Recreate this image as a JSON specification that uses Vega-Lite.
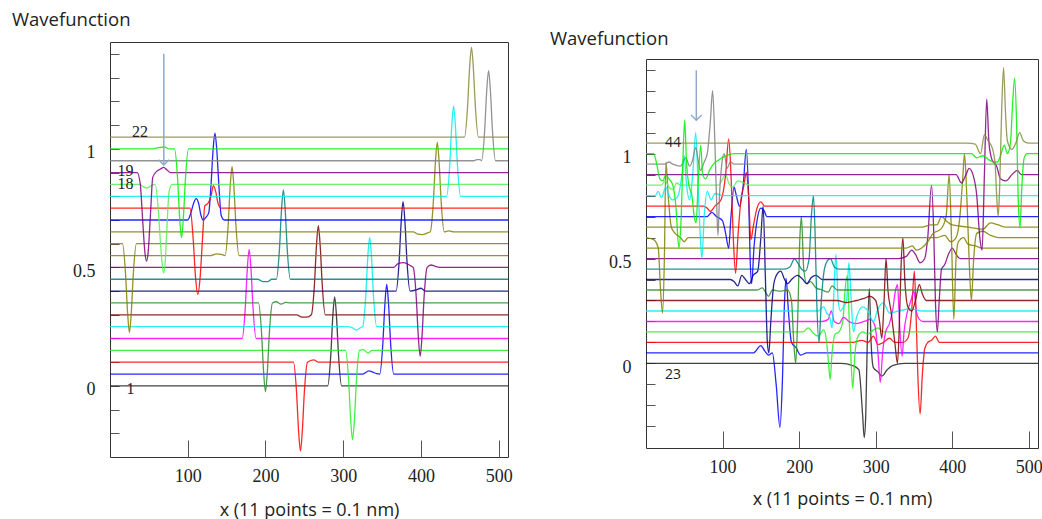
{
"$schema": "https://vega.github.io/schema/vega-lite/v6.json",
"background": "white",
"padding": {"left": 11, "top": 10, "right": 0, "bottom": 0},
"spacing": 36,
"config": {
 "view": {"stroke": "#333333", "strokeWidth": 1},
 "axis": {"grid": false, "domain": false, "labelFont": "Liberation Serif", "labelFontSize": 18, "labelColor": "#222222", "tickColor": "#555555", "tickWidth": 1, "titleFont": "Open Sans", "titleFontSize": 18, "titleFontWeight": "normal", "titleColor": "#222222", "labelFlush": false},
 "title": {"font": "Open Sans", "fontSize": 18.5, "fontWeight": "normal", "color": "#222222", "anchor": "start", "frame": "group", "baseline": "bottom"}
},
"datasets": {
"arrows": [
 {"p": "L", "x": 69.2, "y": 0.932, "y2": 1.401},
 {"p": "R", "x": 65.7, "y": 1.159, "y2": 1.397}
],
"labels": [
 {"p": "L", "t": "22", "x": 38.5, "y": 1.073},
 {"p": "L", "t": "19", "x": 20.1, "y": 0.907},
 {"p": "L", "t": "18", "x": 20.1, "y": 0.852},
 {"p": "L", "t": "1", "x": 26.5, "y": -0.014},
 {"p": "R", "t": "44", "x": 35.3, "y": 1.051},
 {"p": "R", "t": "23", "x": 35.3, "y": -0.056}
],
"curves": [
{"p":"L","s":1,"x":0,"y":0},{"p":"L","s":1,"x":280,"y":0},{"p":"L","s":1,"x":284,"y":0.128},{"p":"L","s":1,"x":286.5,"y":0.286},{"p":"L","s":1,"x":289,"y":0.376},{"p":"L","s":1,"x":291.5,"y":0.286},{"p":"L","s":1,"x":294,"y":0.128},{"p":"L","s":1,"x":298,"y":0},{"p":"L","s":1,"x":512,"y":0},
{"p":"L","s":2,"x":0,"y":0.05},{"p":"L","s":2,"x":325,"y":0.05},{"p":"L","s":2,"x":333,"y":0.063},{"p":"L","s":2,"x":338,"y":0.058},{"p":"L","s":2,"x":343,"y":0.052},{"p":"L","s":2,"x":347,"y":0.05},{"p":"L","s":2,"x":351,"y":0.179},{"p":"L","s":2,"x":353.5,"y":0.337},{"p":"L","s":2,"x":356,"y":0.428},{"p":"L","s":2,"x":358.5,"y":0.337},{"p":"L","s":2,"x":361,"y":0.179},{"p":"L","s":2,"x":365,"y":0.05},{"p":"L","s":2,"x":512,"y":0.05},
{"p":"L","s":3,"x":0,"y":0.1},{"p":"L","s":3,"x":236,"y":0.1},{"p":"L","s":3,"x":240,"y":-0.028},{"p":"L","s":3,"x":242.5,"y":-0.185},{"p":"L","s":3,"x":245,"y":-0.275},{"p":"L","s":3,"x":247.5,"y":-0.185},{"p":"L","s":3,"x":250,"y":-0.028},{"p":"L","s":3,"x":254,"y":0.1},{"p":"L","s":3,"x":262,"y":0.11},{"p":"L","s":3,"x":268,"y":0.1},{"p":"L","s":3,"x":512,"y":0.1},
{"p":"L","s":4,"x":0,"y":0.15},{"p":"L","s":4,"x":303,"y":0.15},{"p":"L","s":4,"x":307,"y":0.022},{"p":"L","s":4,"x":309.5,"y":-0.137},{"p":"L","s":4,"x":312,"y":-0.227},{"p":"L","s":4,"x":314.5,"y":-0.137},{"p":"L","s":4,"x":317,"y":0.022},{"p":"L","s":4,"x":321,"y":0.15},{"p":"L","s":4,"x":326,"y":0.153},{"p":"L","s":4,"x":332,"y":0.138},{"p":"L","s":4,"x":337,"y":0.15},{"p":"L","s":4,"x":512,"y":0.15},
{"p":"L","s":5,"x":0,"y":0.2},{"p":"L","s":5,"x":170,"y":0.2},{"p":"L","s":5,"x":174,"y":0.328},{"p":"L","s":5,"x":176.5,"y":0.486},{"p":"L","s":5,"x":179,"y":0.576},{"p":"L","s":5,"x":181.5,"y":0.486},{"p":"L","s":5,"x":184,"y":0.328},{"p":"L","s":5,"x":188,"y":0.2},{"p":"L","s":5,"x":512,"y":0.2},
{"p":"L","s":6,"x":0,"y":0.25},{"p":"L","s":6,"x":305,"y":0.25},{"p":"L","s":6,"x":312,"y":0.245},{"p":"L","s":6,"x":317,"y":0.235},{"p":"L","s":6,"x":322,"y":0.245},{"p":"L","s":6,"x":325,"y":0.25},{"p":"L","s":6,"x":329,"y":0.378},{"p":"L","s":6,"x":331.5,"y":0.537},{"p":"L","s":6,"x":334,"y":0.627},{"p":"L","s":6,"x":336.5,"y":0.537},{"p":"L","s":6,"x":339,"y":0.378},{"p":"L","s":6,"x":343,"y":0.25},{"p":"L","s":6,"x":512,"y":0.25},
{"p":"L","s":7,"x":0,"y":0.3},{"p":"L","s":7,"x":240,"y":0.3},{"p":"L","s":7,"x":247,"y":0.29},{"p":"L","s":7,"x":253,"y":0.29},{"p":"L","s":7,"x":259,"y":0.3},{"p":"L","s":7,"x":263,"y":0.428},{"p":"L","s":7,"x":265.5,"y":0.586},{"p":"L","s":7,"x":268,"y":0.676},{"p":"L","s":7,"x":270.5,"y":0.586},{"p":"L","s":7,"x":273,"y":0.428},{"p":"L","s":7,"x":277,"y":0.3},{"p":"L","s":7,"x":512,"y":0.3},
{"p":"L","s":8,"x":0,"y":0.35},{"p":"L","s":8,"x":191,"y":0.35},{"p":"L","s":8,"x":195,"y":0.222},{"p":"L","s":8,"x":197.5,"y":0.065},{"p":"L","s":8,"x":200,"y":-0.025},{"p":"L","s":8,"x":202.5,"y":0.065},{"p":"L","s":8,"x":205,"y":0.222},{"p":"L","s":8,"x":209,"y":0.35},{"p":"L","s":8,"x":214,"y":0.355},{"p":"L","s":8,"x":220,"y":0.345},{"p":"L","s":8,"x":226,"y":0.352},{"p":"L","s":8,"x":232,"y":0.35},{"p":"L","s":8,"x":512,"y":0.35},
{"p":"L","s":9,"x":0,"y":0.4},{"p":"L","s":9,"x":368,"y":0.4},{"p":"L","s":9,"x":372,"y":0.528},{"p":"L","s":9,"x":374.5,"y":0.687},{"p":"L","s":9,"x":377,"y":0.777},{"p":"L","s":9,"x":379.5,"y":0.687},{"p":"L","s":9,"x":382,"y":0.528},{"p":"L","s":9,"x":386,"y":0.4},{"p":"L","s":9,"x":394,"y":0.405},{"p":"L","s":9,"x":400,"y":0.412},{"p":"L","s":9,"x":406,"y":0.4},{"p":"L","s":9,"x":512,"y":0.4},
{"p":"L","s":10,"x":0,"y":0.45},{"p":"L","s":10,"x":190,"y":0.45},{"p":"L","s":10,"x":197,"y":0.44},{"p":"L","s":10,"x":203,"y":0.44},{"p":"L","s":10,"x":208,"y":0.45},{"p":"L","s":10,"x":214,"y":0.45},{"p":"L","s":10,"x":218,"y":0.578},{"p":"L","s":10,"x":220.5,"y":0.737},{"p":"L","s":10,"x":223,"y":0.827},{"p":"L","s":10,"x":225.5,"y":0.737},{"p":"L","s":10,"x":228,"y":0.578},{"p":"L","s":10,"x":232,"y":0.45},{"p":"L","s":10,"x":512,"y":0.45},
{"p":"L","s":11,"x":0,"y":0.5},{"p":"L","s":11,"x":365,"y":0.5},{"p":"L","s":11,"x":370,"y":0.515},{"p":"L","s":11,"x":378,"y":0.52},{"p":"L","s":11,"x":385,"y":0.51},{"p":"L","s":11,"x":390,"y":0.5},{"p":"L","s":11,"x":394,"y":0.372},{"p":"L","s":11,"x":396.5,"y":0.215},{"p":"L","s":11,"x":399,"y":0.125},{"p":"L","s":11,"x":401.5,"y":0.215},{"p":"L","s":11,"x":404,"y":0.372},{"p":"L","s":11,"x":408,"y":0.5},{"p":"L","s":11,"x":413,"y":0.51},{"p":"L","s":11,"x":418,"y":0.505},{"p":"L","s":11,"x":424,"y":0.5},{"p":"L","s":11,"x":512,"y":0.5},
{"p":"L","s":12,"x":0,"y":0.55},{"p":"L","s":12,"x":130,"y":0.55},{"p":"L","s":12,"x":137,"y":0.557},{"p":"L","s":12,"x":143,"y":0.555},{"p":"L","s":12,"x":148,"y":0.55},{"p":"L","s":12,"x":152,"y":0.678},{"p":"L","s":12,"x":154.5,"y":0.835},{"p":"L","s":12,"x":157,"y":0.925},{"p":"L","s":12,"x":159.5,"y":0.835},{"p":"L","s":12,"x":162,"y":0.678},{"p":"L","s":12,"x":166,"y":0.55},{"p":"L","s":12,"x":512,"y":0.55},
{"p":"L","s":13,"x":0,"y":0.6},{"p":"L","s":13,"x":16,"y":0.6},{"p":"L","s":13,"x":20,"y":0.472},{"p":"L","s":13,"x":22.5,"y":0.315},{"p":"L","s":13,"x":25,"y":0.225},{"p":"L","s":13,"x":27.5,"y":0.315},{"p":"L","s":13,"x":30,"y":0.472},{"p":"L","s":13,"x":34,"y":0.6},{"p":"L","s":13,"x":512,"y":0.6},
{"p":"L","s":14,"x":0,"y":0.65},{"p":"L","s":14,"x":390,"y":0.65},{"p":"L","s":14,"x":396,"y":0.64},{"p":"L","s":14,"x":402,"y":0.638},{"p":"L","s":14,"x":408,"y":0.645},{"p":"L","s":14,"x":412,"y":0.65},{"p":"L","s":14,"x":416,"y":0.778},{"p":"L","s":14,"x":418.5,"y":0.937},{"p":"L","s":14,"x":421,"y":1.027},{"p":"L","s":14,"x":423.5,"y":0.937},{"p":"L","s":14,"x":426,"y":0.778},{"p":"L","s":14,"x":430,"y":0.65},{"p":"L","s":14,"x":436,"y":0.654},{"p":"L","s":14,"x":442,"y":0.65},{"p":"L","s":14,"x":512,"y":0.65},
{"p":"L","s":15,"x":0,"y":0.7},{"p":"L","s":15,"x":100,"y":0.7},{"p":"L","s":15,"x":104,"y":0.73},{"p":"L","s":15,"x":108,"y":0.775},{"p":"L","s":15,"x":111,"y":0.79},{"p":"L","s":15,"x":114,"y":0.77},{"p":"L","s":15,"x":117,"y":0.72},{"p":"L","s":15,"x":120,"y":0.7},{"p":"L","s":15,"x":123,"y":0.71},{"p":"L","s":15,"x":127,"y":0.73},{"p":"L","s":15,"x":130,"y":0.85},{"p":"L","s":15,"x":132.5,"y":0.99},{"p":"L","s":15,"x":135,"y":1.066},{"p":"L","s":15,"x":137.5,"y":0.99},{"p":"L","s":15,"x":140,"y":0.85},{"p":"L","s":15,"x":143,"y":0.72},{"p":"L","s":15,"x":147,"y":0.7},{"p":"L","s":15,"x":512,"y":0.7},
{"p":"L","s":16,"x":0,"y":0.75},{"p":"L","s":16,"x":103,"y":0.75},{"p":"L","s":16,"x":107,"y":0.62},{"p":"L","s":16,"x":110,"y":0.46},{"p":"L","s":16,"x":113,"y":0.386},{"p":"L","s":16,"x":116,"y":0.46},{"p":"L","s":16,"x":119,"y":0.62},{"p":"L","s":16,"x":122,"y":0.76},{"p":"L","s":16,"x":126,"y":0.77},{"p":"L","s":16,"x":130,"y":0.8},{"p":"L","s":16,"x":133,"y":0.845},{"p":"L","s":16,"x":136,"y":0.82},{"p":"L","s":16,"x":139,"y":0.77},{"p":"L","s":16,"x":143,"y":0.75},{"p":"L","s":16,"x":512,"y":0.75},
{"p":"L","s":17,"x":0,"y":0.8},{"p":"L","s":17,"x":433,"y":0.8},{"p":"L","s":17,"x":437,"y":0.929},{"p":"L","s":17,"x":439.5,"y":1.088},{"p":"L","s":17,"x":442,"y":1.18},{"p":"L","s":17,"x":444.5,"y":1.088},{"p":"L","s":17,"x":447,"y":0.929},{"p":"L","s":17,"x":451,"y":0.8},{"p":"L","s":17,"x":512,"y":0.8},
{"p":"L","s":18,"x":0,"y":0.85},{"p":"L","s":18,"x":38,"y":0.85},{"p":"L","s":18,"x":43,"y":0.84},{"p":"L","s":18,"x":48,"y":0.835},{"p":"L","s":18,"x":53,"y":0.845},{"p":"L","s":18,"x":58,"y":0.85},{"p":"L","s":18,"x":62,"y":0.75},{"p":"L","s":18,"x":65,"y":0.6},{"p":"L","s":18,"x":67,"y":0.52},{"p":"L","s":18,"x":69,"y":0.477},{"p":"L","s":18,"x":71,"y":0.52},{"p":"L","s":18,"x":73,"y":0.65},{"p":"L","s":18,"x":76,"y":0.82},{"p":"L","s":18,"x":80,"y":0.85},{"p":"L","s":18,"x":512,"y":0.85},
{"p":"L","s":19,"x":0,"y":0.9},{"p":"L","s":19,"x":35,"y":0.9},{"p":"L","s":19,"x":39,"y":0.85},{"p":"L","s":19,"x":42,"y":0.7},{"p":"L","s":19,"x":45,"y":0.56},{"p":"L","s":19,"x":47,"y":0.527},{"p":"L","s":19,"x":49,"y":0.56},{"p":"L","s":19,"x":52,"y":0.72},{"p":"L","s":19,"x":55,"y":0.88},{"p":"L","s":19,"x":60,"y":0.905},{"p":"L","s":19,"x":65,"y":0.915},{"p":"L","s":19,"x":69,"y":0.922},{"p":"L","s":19,"x":73,"y":0.912},{"p":"L","s":19,"x":78,"y":0.9},{"p":"L","s":19,"x":512,"y":0.9},
{"p":"L","s":20,"x":0,"y":0.95},{"p":"L","s":20,"x":468,"y":0.95},{"p":"L","s":20,"x":472,"y":0.955},{"p":"L","s":20,"x":476,"y":0.955},{"p":"L","s":20,"x":478,"y":0.95},{"p":"L","s":20,"x":482,"y":1.079},{"p":"L","s":20,"x":484.5,"y":1.239},{"p":"L","s":20,"x":487,"y":1.33},{"p":"L","s":20,"x":489.5,"y":1.239},{"p":"L","s":20,"x":492,"y":1.079},{"p":"L","s":20,"x":496,"y":0.95},{"p":"L","s":20,"x":512,"y":0.95},
{"p":"L","s":21,"x":0,"y":1.0},{"p":"L","s":21,"x":55,"y":1.0},{"p":"L","s":21,"x":62,"y":1.005},{"p":"L","s":21,"x":70,"y":1.008},{"p":"L","s":21,"x":76,"y":1.0},{"p":"L","s":21,"x":83,"y":1.0},{"p":"L","s":21,"x":87,"y":0.872},{"p":"L","s":21,"x":89.5,"y":0.715},{"p":"L","s":21,"x":92,"y":0.625},{"p":"L","s":21,"x":94.5,"y":0.715},{"p":"L","s":21,"x":97,"y":0.872},{"p":"L","s":21,"x":101,"y":1.0},{"p":"L","s":21,"x":512,"y":1.0},
{"p":"L","s":22,"x":0,"y":1.05},{"p":"L","s":22,"x":456,"y":1.05},{"p":"L","s":22,"x":460,"y":1.179},{"p":"L","s":22,"x":462.5,"y":1.337},{"p":"L","s":22,"x":465,"y":1.428},{"p":"L","s":22,"x":467.5,"y":1.337},{"p":"L","s":22,"x":470,"y":1.179},{"p":"L","s":22,"x":474,"y":1.05},{"p":"L","s":22,"x":512,"y":1.05},
{"p":"R","s":23,"x":0,"y":0},{"p":"R","s":23,"x":255,"y":0},{"p":"R","s":23,"x":270,"y":-0.01},{"p":"R","s":23,"x":278,"y":-0.03},{"p":"R","s":23,"x":283,"y":-0.25},{"p":"R","s":23,"x":285,"y":-0.354},{"p":"R","s":23,"x":287,"y":-0.25},{"p":"R","s":23,"x":289,"y":0.1},{"p":"R","s":23,"x":291.7,"y":0.356},{"p":"R","s":23,"x":294,"y":0.1},{"p":"R","s":23,"x":297,"y":-0.02},{"p":"R","s":23,"x":303,"y":-0.04},{"p":"R","s":23,"x":308,"y":-0.06},{"p":"R","s":23,"x":315,"y":-0.03},{"p":"R","s":23,"x":322,"y":-0.01},{"p":"R","s":23,"x":338,"y":0},{"p":"R","s":23,"x":512,"y":0},
{"p":"R","s":24,"x":0,"y":0.05},{"p":"R","s":24,"x":140,"y":0.05},{"p":"R","s":24,"x":150,"y":0.085},{"p":"R","s":24,"x":155,"y":0.06},{"p":"R","s":24,"x":160,"y":0.04},{"p":"R","s":24,"x":165,"y":0.05},{"p":"R","s":24,"x":170,"y":-0.1},{"p":"R","s":24,"x":175,"y":-0.305},{"p":"R","s":24,"x":178,"y":-0.1},{"p":"R","s":24,"x":181,"y":0.3},{"p":"R","s":24,"x":183,"y":0.405},{"p":"R","s":24,"x":186,"y":0.25},{"p":"R","s":24,"x":190,"y":0.1},{"p":"R","s":24,"x":196,"y":0.075},{"p":"R","s":24,"x":202,"y":0.04},{"p":"R","s":24,"x":210,"y":0.05},{"p":"R","s":24,"x":512,"y":0.05},
{"p":"R","s":25,"x":0,"y":0.1},{"p":"R","s":25,"x":270,"y":0.1},{"p":"R","s":25,"x":282,"y":0.11},{"p":"R","s":25,"x":290,"y":0.1},{"p":"R","s":25,"x":297,"y":0.13},{"p":"R","s":25,"x":303,"y":0.09},{"p":"R","s":25,"x":310,"y":0.1},{"p":"R","s":25,"x":318,"y":0.12},{"p":"R","s":25,"x":325,"y":0.1},{"p":"R","s":25,"x":335,"y":0.1},{"p":"R","s":25,"x":342,"y":0.12},{"p":"R","s":25,"x":347,"y":0.25},{"p":"R","s":25,"x":350.5,"y":0.44},{"p":"R","s":25,"x":353,"y":0.2},{"p":"R","s":25,"x":355,"y":-0.05},{"p":"R","s":25,"x":358,"y":-0.24},{"p":"R","s":25,"x":361,"y":-0.05},{"p":"R","s":25,"x":364,"y":0.07},{"p":"R","s":25,"x":368,"y":0.1},{"p":"R","s":25,"x":373,"y":0.11},{"p":"R","s":25,"x":378,"y":0.13},{"p":"R","s":25,"x":383,"y":0.1},{"p":"R","s":25,"x":390,"y":0.1},{"p":"R","s":25,"x":512,"y":0.1},
{"p":"R","s":26,"x":0,"y":0.15},{"p":"R","s":26,"x":205,"y":0.15},{"p":"R","s":26,"x":212,"y":0.17},{"p":"R","s":26,"x":217,"y":0.15},{"p":"R","s":26,"x":225,"y":0.13},{"p":"R","s":26,"x":232,"y":0.16},{"p":"R","s":26,"x":236,"y":0.1},{"p":"R","s":26,"x":238.5,"y":0.0},{"p":"R","s":26,"x":240.5,"y":-0.077},{"p":"R","s":26,"x":243,"y":0.05},{"p":"R","s":26,"x":247,"y":0.14},{"p":"R","s":26,"x":252,"y":0.15},{"p":"R","s":26,"x":257,"y":0.2},{"p":"R","s":26,"x":260,"y":0.35},{"p":"R","s":26,"x":263,"y":0.42},{"p":"R","s":26,"x":265.5,"y":0.2},{"p":"R","s":26,"x":268,"y":0.0},{"p":"R","s":26,"x":270,"y":-0.118},{"p":"R","s":26,"x":273,"y":0.05},{"p":"R","s":26,"x":277,"y":0.13},{"p":"R","s":26,"x":283,"y":0.15},{"p":"R","s":26,"x":290,"y":0.14},{"p":"R","s":26,"x":297,"y":0.16},{"p":"R","s":26,"x":303,"y":0.17},{"p":"R","s":26,"x":310,"y":0.15},{"p":"R","s":26,"x":512,"y":0.15},
{"p":"R","s":27,"x":0,"y":0.2},{"p":"R","s":27,"x":230,"y":0.2},{"p":"R","s":27,"x":238,"y":0.21},{"p":"R","s":27,"x":242,"y":0.25},{"p":"R","s":27,"x":246,"y":0.2},{"p":"R","s":27,"x":252,"y":0.19},{"p":"R","s":27,"x":258,"y":0.22},{"p":"R","s":27,"x":265,"y":0.2},{"p":"R","s":27,"x":275,"y":0.19},{"p":"R","s":27,"x":285,"y":0.2},{"p":"R","s":27,"x":293,"y":0.21},{"p":"R","s":27,"x":299,"y":0.18},{"p":"R","s":27,"x":303,"y":0.05},{"p":"R","s":27,"x":306,"y":-0.09},{"p":"R","s":27,"x":309,"y":0.05},{"p":"R","s":27,"x":313,"y":0.15},{"p":"R","s":27,"x":318,"y":0.19},{"p":"R","s":27,"x":322,"y":0.25},{"p":"R","s":27,"x":326,"y":0.35},{"p":"R","s":27,"x":328.5,"y":0.375},{"p":"R","s":27,"x":331,"y":0.2},{"p":"R","s":27,"x":334.5,"y":0.035},{"p":"R","s":27,"x":337,"y":0.15},{"p":"R","s":27,"x":341,"y":0.24},{"p":"R","s":27,"x":346,"y":0.3},{"p":"R","s":27,"x":350,"y":0.345},{"p":"R","s":27,"x":353,"y":0.25},{"p":"R","s":27,"x":357,"y":0.21},{"p":"R","s":27,"x":362,"y":0.2},{"p":"R","s":27,"x":512,"y":0.2},
{"p":"R","s":28,"x":0,"y":0.25},{"p":"R","s":28,"x":225,"y":0.25},{"p":"R","s":28,"x":232,"y":0.27},{"p":"R","s":28,"x":236,"y":0.24},{"p":"R","s":28,"x":240,"y":0.22},{"p":"R","s":28,"x":243,"y":0.17},{"p":"R","s":28,"x":245,"y":0.3},{"p":"R","s":28,"x":248,"y":0.52},{"p":"R","s":28,"x":251,"y":0.3},{"p":"R","s":28,"x":254,"y":0.25},{"p":"R","s":28,"x":258,"y":0.27},{"p":"R","s":28,"x":262,"y":0.3},{"p":"R","s":28,"x":265,"y":0.48},{"p":"R","s":28,"x":268,"y":0.3},{"p":"R","s":28,"x":271,"y":0.15},{"p":"R","s":28,"x":275,"y":0.22},{"p":"R","s":28,"x":283,"y":0.27},{"p":"R","s":28,"x":290,"y":0.25},{"p":"R","s":28,"x":297,"y":0.2},{"p":"R","s":28,"x":303,"y":0.26},{"p":"R","s":28,"x":310,"y":0.29},{"p":"R","s":28,"x":318,"y":0.24},{"p":"R","s":28,"x":330,"y":0.25},{"p":"R","s":28,"x":345,"y":0.26},{"p":"R","s":28,"x":360,"y":0.25},{"p":"R","s":28,"x":512,"y":0.25},
{"p":"R","s":29,"x":0,"y":0.3},{"p":"R","s":29,"x":250,"y":0.3},{"p":"R","s":29,"x":262,"y":0.29},{"p":"R","s":29,"x":275,"y":0.3},{"p":"R","s":29,"x":285,"y":0.31},{"p":"R","s":29,"x":292,"y":0.32},{"p":"R","s":29,"x":300,"y":0.3},{"p":"R","s":29,"x":305,"y":0.2},{"p":"R","s":29,"x":308,"y":0.12},{"p":"R","s":29,"x":311,"y":0.3},{"p":"R","s":29,"x":313.5,"y":0.5},{"p":"R","s":29,"x":316,"y":0.35},{"p":"R","s":29,"x":320,"y":0.25},{"p":"R","s":29,"x":325,"y":0.1},{"p":"R","s":29,"x":328.5,"y":0.0},{"p":"R","s":29,"x":331,"y":0.2},{"p":"R","s":29,"x":333,"y":0.45},{"p":"R","s":29,"x":335.5,"y":0.6},{"p":"R","s":29,"x":338,"y":0.4},{"p":"R","s":29,"x":342,"y":0.27},{"p":"R","s":29,"x":347,"y":0.25},{"p":"R","s":29,"x":352,"y":0.3},{"p":"R","s":29,"x":357,"y":0.375},{"p":"R","s":29,"x":361,"y":0.33},{"p":"R","s":29,"x":366,"y":0.3},{"p":"R","s":29,"x":512,"y":0.3},
{"p":"R","s":30,"x":0,"y":0.35},{"p":"R","s":30,"x":145,"y":0.35},{"p":"R","s":30,"x":152,"y":0.36},{"p":"R","s":30,"x":156,"y":0.34},{"p":"R","s":30,"x":160,"y":0.32},{"p":"R","s":30,"x":165,"y":0.35},{"p":"R","s":30,"x":175,"y":0.345},{"p":"R","s":30,"x":185,"y":0.35},{"p":"R","s":30,"x":190,"y":0.3},{"p":"R","s":30,"x":193,"y":0.1},{"p":"R","s":30,"x":195.5,"y":0.0},{"p":"R","s":30,"x":198,"y":0.2},{"p":"R","s":30,"x":201,"y":0.6},{"p":"R","s":30,"x":203,"y":0.7},{"p":"R","s":30,"x":206,"y":0.45},{"p":"R","s":30,"x":210,"y":0.38},{"p":"R","s":30,"x":215,"y":0.39},{"p":"R","s":30,"x":222,"y":0.36},{"p":"R","s":30,"x":230,"y":0.35},{"p":"R","s":30,"x":238,"y":0.34},{"p":"R","s":30,"x":243,"y":0.37},{"p":"R","s":30,"x":250,"y":0.35},{"p":"R","s":30,"x":512,"y":0.35},
{"p":"R","s":31,"x":0,"y":0.4},{"p":"R","s":31,"x":110,"y":0.4},{"p":"R","s":31,"x":115,"y":0.39},{"p":"R","s":31,"x":120,"y":0.37},{"p":"R","s":31,"x":125,"y":0.42},{"p":"R","s":31,"x":130,"y":0.4},{"p":"R","s":31,"x":135,"y":0.38},{"p":"R","s":31,"x":140,"y":0.42},{"p":"R","s":31,"x":146,"y":0.44},{"p":"R","s":31,"x":150,"y":0.6},{"p":"R","s":31,"x":153,"y":0.75},{"p":"R","s":31,"x":156,"y":0.4},{"p":"R","s":31,"x":158.5,"y":0.1},{"p":"R","s":31,"x":160.5,"y":0.05},{"p":"R","s":31,"x":163,"y":0.2},{"p":"R","s":31,"x":167,"y":0.38},{"p":"R","s":31,"x":172,"y":0.43},{"p":"R","s":31,"x":176,"y":0.44},{"p":"R","s":31,"x":181,"y":0.4},{"p":"R","s":31,"x":185,"y":0.38},{"p":"R","s":31,"x":190,"y":0.4},{"p":"R","s":31,"x":198,"y":0.42},{"p":"R","s":31,"x":205,"y":0.4},{"p":"R","s":31,"x":210,"y":0.38},{"p":"R","s":31,"x":216,"y":0.41},{"p":"R","s":31,"x":222,"y":0.42},{"p":"R","s":31,"x":230,"y":0.4},{"p":"R","s":31,"x":512,"y":0.4},
{"p":"R","s":32,"x":0,"y":0.45},{"p":"R","s":32,"x":180,"y":0.45},{"p":"R","s":32,"x":188,"y":0.46},{"p":"R","s":32,"x":194,"y":0.5},{"p":"R","s":32,"x":198,"y":0.48},{"p":"R","s":32,"x":203,"y":0.45},{"p":"R","s":32,"x":208,"y":0.44},{"p":"R","s":32,"x":213,"y":0.5},{"p":"R","s":32,"x":216,"y":0.7},{"p":"R","s":32,"x":218.7,"y":0.8},{"p":"R","s":32,"x":221,"y":0.6},{"p":"R","s":32,"x":223,"y":0.3},{"p":"R","s":32,"x":226,"y":0.1},{"p":"R","s":32,"x":229,"y":0.3},{"p":"R","s":32,"x":233,"y":0.45},{"p":"R","s":32,"x":237,"y":0.49},{"p":"R","s":32,"x":241,"y":0.5},{"p":"R","s":32,"x":246,"y":0.46},{"p":"R","s":32,"x":252,"y":0.45},{"p":"R","s":32,"x":512,"y":0.45},
{"p":"R","s":33,"x":0,"y":0.5},{"p":"R","s":33,"x":330,"y":0.5},{"p":"R","s":33,"x":340,"y":0.51},{"p":"R","s":33,"x":347,"y":0.54},{"p":"R","s":33,"x":352,"y":0.52},{"p":"R","s":33,"x":358,"y":0.48},{"p":"R","s":33,"x":364,"y":0.5},{"p":"R","s":33,"x":368,"y":0.6},{"p":"R","s":33,"x":373,"y":0.85},{"p":"R","s":33,"x":376,"y":0.6},{"p":"R","s":33,"x":378,"y":0.3},{"p":"R","s":33,"x":380.5,"y":0.15},{"p":"R","s":33,"x":383,"y":0.3},{"p":"R","s":33,"x":386,"y":0.45},{"p":"R","s":33,"x":390,"y":0.47},{"p":"R","s":33,"x":395,"y":0.52},{"p":"R","s":33,"x":400,"y":0.55},{"p":"R","s":33,"x":405,"y":0.52},{"p":"R","s":33,"x":410,"y":0.5},{"p":"R","s":33,"x":512,"y":0.5},
{"p":"R","s":34,"x":0,"y":0.55},{"p":"R","s":34,"x":340,"y":0.55},{"p":"R","s":34,"x":348,"y":0.56},{"p":"R","s":34,"x":353,"y":0.54},{"p":"R","s":34,"x":360,"y":0.55},{"p":"R","s":34,"x":368,"y":0.58},{"p":"R","s":34,"x":375,"y":0.62},{"p":"R","s":34,"x":385,"y":0.64},{"p":"R","s":34,"x":392,"y":0.7},{"p":"R","s":34,"x":396,"y":0.9},{"p":"R","s":34,"x":399,"y":0.6},{"p":"R","s":34,"x":402,"y":0.21},{"p":"R","s":34,"x":405,"y":0.5},{"p":"R","s":34,"x":408,"y":0.58},{"p":"R","s":34,"x":415,"y":0.6},{"p":"R","s":34,"x":420,"y":0.57},{"p":"R","s":34,"x":430,"y":0.56},{"p":"R","s":34,"x":440,"y":0.55},{"p":"R","s":34,"x":512,"y":0.55},
{"p":"R","s":35,"x":0,"y":0.6},{"p":"R","s":35,"x":10,"y":0.59},{"p":"R","s":35,"x":16,"y":0.55},{"p":"R","s":35,"x":19,"y":0.35},{"p":"R","s":35,"x":21.6,"y":0.24},{"p":"R","s":35,"x":24,"y":0.5},{"p":"R","s":35,"x":26,"y":0.96},{"p":"R","s":35,"x":29,"y":0.8},{"p":"R","s":35,"x":33,"y":0.65},{"p":"R","s":35,"x":38,"y":0.62},{"p":"R","s":35,"x":45,"y":0.6},{"p":"R","s":35,"x":50,"y":0.58},{"p":"R","s":35,"x":55,"y":0.6},{"p":"R","s":35,"x":380,"y":0.6},{"p":"R","s":35,"x":390,"y":0.61},{"p":"R","s":35,"x":398,"y":0.58},{"p":"R","s":35,"x":405,"y":0.6},{"p":"R","s":35,"x":410,"y":0.7},{"p":"R","s":35,"x":414,"y":0.9},{"p":"R","s":35,"x":416,"y":1.0},{"p":"R","s":35,"x":419,"y":0.8},{"p":"R","s":35,"x":422,"y":0.5},{"p":"R","s":35,"x":425,"y":0.3},{"p":"R","s":35,"x":428,"y":0.5},{"p":"R","s":35,"x":432,"y":0.62},{"p":"R","s":35,"x":440,"y":0.63},{"p":"R","s":35,"x":450,"y":0.61},{"p":"R","s":35,"x":460,"y":0.6},{"p":"R","s":35,"x":512,"y":0.6},
{"p":"R","s":36,"x":0,"y":0.65},{"p":"R","s":36,"x":360,"y":0.65},{"p":"R","s":36,"x":372,"y":0.66},{"p":"R","s":36,"x":380,"y":0.66},{"p":"R","s":36,"x":386,"y":0.7},{"p":"R","s":36,"x":392,"y":0.68},{"p":"R","s":36,"x":400,"y":0.66},{"p":"R","s":36,"x":420,"y":0.65},{"p":"R","s":36,"x":440,"y":0.64},{"p":"R","s":36,"x":450,"y":0.67},{"p":"R","s":36,"x":460,"y":0.66},{"p":"R","s":36,"x":470,"y":0.65},{"p":"R","s":36,"x":512,"y":0.65},
{"p":"R","s":37,"x":0,"y":0.7},{"p":"R","s":37,"x":80,"y":0.7},{"p":"R","s":37,"x":86,"y":0.72},{"p":"R","s":37,"x":92,"y":0.7},{"p":"R","s":37,"x":100,"y":0.68},{"p":"R","s":37,"x":104,"y":0.62},{"p":"R","s":37,"x":108,"y":0.55},{"p":"R","s":37,"x":111,"y":0.7},{"p":"R","s":37,"x":115,"y":0.84},{"p":"R","s":37,"x":118,"y":0.8},{"p":"R","s":37,"x":122,"y":0.75},{"p":"R","s":37,"x":127,"y":0.85},{"p":"R","s":37,"x":131,"y":1.02},{"p":"R","s":37,"x":134,"y":0.8},{"p":"R","s":37,"x":136,"y":0.5},{"p":"R","s":37,"x":138,"y":0.38},{"p":"R","s":37,"x":141,"y":0.55},{"p":"R","s":37,"x":145,"y":0.68},{"p":"R","s":37,"x":150,"y":0.74},{"p":"R","s":37,"x":154,"y":0.73},{"p":"R","s":37,"x":158,"y":0.7},{"p":"R","s":37,"x":512,"y":0.7},
{"p":"R","s":38,"x":0,"y":0.75},{"p":"R","s":38,"x":75,"y":0.75},{"p":"R","s":38,"x":80,"y":0.74},{"p":"R","s":38,"x":84,"y":0.725},{"p":"R","s":38,"x":90,"y":0.75},{"p":"R","s":38,"x":98,"y":0.78},{"p":"R","s":38,"x":104,"y":0.9},{"p":"R","s":38,"x":108,"y":1.07},{"p":"R","s":38,"x":111,"y":0.9},{"p":"R","s":38,"x":114,"y":0.6},{"p":"R","s":38,"x":117,"y":0.43},{"p":"R","s":38,"x":120,"y":0.6},{"p":"R","s":38,"x":124,"y":0.78},{"p":"R","s":38,"x":128,"y":0.85},{"p":"R","s":38,"x":131,"y":0.91},{"p":"R","s":38,"x":134,"y":0.8},{"p":"R","s":38,"x":137,"y":0.59},{"p":"R","s":38,"x":140,"y":0.65},{"p":"R","s":38,"x":145,"y":0.74},{"p":"R","s":38,"x":150,"y":0.77},{"p":"R","s":38,"x":155,"y":0.75},{"p":"R","s":38,"x":512,"y":0.75},
{"p":"R","s":39,"x":0,"y":0.8},{"p":"R","s":39,"x":12,"y":0.8},{"p":"R","s":39,"x":16,"y":0.82},{"p":"R","s":39,"x":20,"y":0.79},{"p":"R","s":39,"x":26,"y":0.84},{"p":"R","s":39,"x":30,"y":0.8},{"p":"R","s":39,"x":35,"y":0.78},{"p":"R","s":39,"x":42,"y":0.8},{"p":"R","s":39,"x":47,"y":0.9},{"p":"R","s":39,"x":50,"y":0.99},{"p":"R","s":39,"x":53,"y":0.85},{"p":"R","s":39,"x":57,"y":0.78},{"p":"R","s":39,"x":61,"y":0.9},{"p":"R","s":39,"x":65,"y":1.1},{"p":"R","s":39,"x":68,"y":0.85},{"p":"R","s":39,"x":71,"y":0.6},{"p":"R","s":39,"x":73,"y":0.5},{"p":"R","s":39,"x":76,"y":0.7},{"p":"R","s":39,"x":80,"y":0.82},{"p":"R","s":39,"x":85,"y":0.78},{"p":"R","s":39,"x":90,"y":0.81},{"p":"R","s":39,"x":100,"y":0.8},{"p":"R","s":39,"x":512,"y":0.8},
{"p":"R","s":40,"x":0,"y":0.85},{"p":"R","s":40,"x":20,"y":0.85},{"p":"R","s":40,"x":25,"y":0.87},{"p":"R","s":40,"x":30,"y":0.84},{"p":"R","s":40,"x":35,"y":0.83},{"p":"R","s":40,"x":40,"y":0.86},{"p":"R","s":40,"x":45,"y":0.85},{"p":"R","s":40,"x":95,"y":0.85},{"p":"R","s":40,"x":100,"y":0.88},{"p":"R","s":40,"x":104,"y":0.9},{"p":"R","s":40,"x":108,"y":0.86},{"p":"R","s":40,"x":113,"y":0.84},{"p":"R","s":40,"x":120,"y":0.87},{"p":"R","s":40,"x":128,"y":0.86},{"p":"R","s":40,"x":135,"y":0.85},{"p":"R","s":40,"x":512,"y":0.85},
{"p":"R","s":41,"x":0,"y":0.9},{"p":"R","s":41,"x":395,"y":0.9},{"p":"R","s":41,"x":405,"y":0.9},{"p":"R","s":41,"x":412,"y":0.86},{"p":"R","s":41,"x":418,"y":0.9},{"p":"R","s":41,"x":422,"y":0.93},{"p":"R","s":41,"x":427,"y":0.9},{"p":"R","s":41,"x":432,"y":0.8},{"p":"R","s":41,"x":436,"y":0.6},{"p":"R","s":41,"x":439,"y":0.54},{"p":"R","s":41,"x":442,"y":0.9},{"p":"R","s":41,"x":445,"y":1.26},{"p":"R","s":41,"x":448,"y":1.05},{"p":"R","s":41,"x":452,"y":0.97},{"p":"R","s":41,"x":458,"y":0.94},{"p":"R","s":41,"x":463,"y":0.88},{"p":"R","s":41,"x":470,"y":0.87},{"p":"R","s":41,"x":478,"y":0.9},{"p":"R","s":41,"x":485,"y":0.92},{"p":"R","s":41,"x":490,"y":0.9},{"p":"R","s":41,"x":512,"y":0.9},
{"p":"R","s":42,"x":0,"y":0.95},{"p":"R","s":42,"x":25,"y":0.95},{"p":"R","s":42,"x":30,"y":0.96},{"p":"R","s":42,"x":35,"y":0.95},{"p":"R","s":42,"x":45,"y":0.94},{"p":"R","s":42,"x":52,"y":0.98},{"p":"R","s":42,"x":57,"y":0.94},{"p":"R","s":42,"x":61,"y":0.97},{"p":"R","s":42,"x":65,"y":1.03},{"p":"R","s":42,"x":68,"y":0.97},{"p":"R","s":42,"x":71,"y":0.92},{"p":"R","s":42,"x":76,"y":0.96},{"p":"R","s":42,"x":80,"y":1.0},{"p":"R","s":42,"x":84,"y":1.15},{"p":"R","s":42,"x":87,"y":1.3},{"p":"R","s":42,"x":90,"y":1.05},{"p":"R","s":42,"x":92,"y":0.8},{"p":"R","s":42,"x":94,"y":0.61},{"p":"R","s":42,"x":96,"y":0.8},{"p":"R","s":42,"x":99,"y":0.95},{"p":"R","s":42,"x":102,"y":1.0},{"p":"R","s":42,"x":106,"y":0.93},{"p":"R","s":42,"x":110,"y":0.96},{"p":"R","s":42,"x":115,"y":0.95},{"p":"R","s":42,"x":512,"y":0.95},
{"p":"R","s":43,"x":0,"y":1.0},{"p":"R","s":43,"x":10,"y":1.0},{"p":"R","s":43,"x":14,"y":0.95},{"p":"R","s":43,"x":18,"y":0.88},{"p":"R","s":43,"x":22,"y":0.87},{"p":"R","s":43,"x":26,"y":0.9},{"p":"R","s":43,"x":30,"y":0.88},{"p":"R","s":43,"x":35,"y":0.85},{"p":"R","s":43,"x":39,"y":0.75},{"p":"R","s":43,"x":43,"y":0.55},{"p":"R","s":43,"x":46,"y":0.7},{"p":"R","s":43,"x":48.5,"y":1.0},{"p":"R","s":43,"x":50.5,"y":1.16},{"p":"R","s":43,"x":53,"y":0.95},{"p":"R","s":43,"x":56,"y":0.85},{"p":"R","s":43,"x":60,"y":0.8},{"p":"R","s":43,"x":63,"y":0.7},{"p":"R","s":43,"x":65.5,"y":0.67},{"p":"R","s":43,"x":68,"y":0.85},{"p":"R","s":43,"x":71.5,"y":1.04},{"p":"R","s":43,"x":74,"y":0.9},{"p":"R","s":43,"x":78,"y":0.88},{"p":"R","s":43,"x":83,"y":0.92},{"p":"R","s":43,"x":88,"y":0.95},{"p":"R","s":43,"x":95,"y":0.97},{"p":"R","s":43,"x":105,"y":0.99},{"p":"R","s":43,"x":115,"y":1.0},{"p":"R","s":43,"x":415,"y":1.0},{"p":"R","s":43,"x":425,"y":1.0},{"p":"R","s":43,"x":432,"y":0.98},{"p":"R","s":43,"x":440,"y":0.99},{"p":"R","s":43,"x":448,"y":0.97},{"p":"R","s":43,"x":455,"y":0.96},{"p":"R","s":43,"x":459,"y":0.96},{"p":"R","s":43,"x":463,"y":0.99},{"p":"R","s":43,"x":468,"y":1.04},{"p":"R","s":43,"x":472,"y":1.0},{"p":"R","s":43,"x":476,"y":1.05},{"p":"R","s":43,"x":479,"y":1.25},{"p":"R","s":43,"x":481.5,"y":1.36},{"p":"R","s":43,"x":484,"y":1.15},{"p":"R","s":43,"x":486,"y":0.8},{"p":"R","s":43,"x":488.5,"y":0.646},{"p":"R","s":43,"x":491,"y":0.85},{"p":"R","s":43,"x":494,"y":0.98},{"p":"R","s":43,"x":498,"y":1.0},{"p":"R","s":43,"x":512,"y":1.0},
{"p":"R","s":44,"x":0,"y":1.05},{"p":"R","s":44,"x":420,"y":1.05},{"p":"R","s":44,"x":430,"y":1.045},{"p":"R","s":44,"x":437,"y":1.0},{"p":"R","s":44,"x":442,"y":1.09},{"p":"R","s":44,"x":447,"y":1.06},{"p":"R","s":44,"x":452,"y":1.03},{"p":"R","s":44,"x":456,"y":0.95},{"p":"R","s":44,"x":458,"y":0.8},{"p":"R","s":44,"x":460,"y":0.7},{"p":"R","s":44,"x":462,"y":0.85},{"p":"R","s":44,"x":464.5,"y":1.2},{"p":"R","s":44,"x":467,"y":1.41},{"p":"R","s":44,"x":469.5,"y":1.2},{"p":"R","s":44,"x":472,"y":1.06},{"p":"R","s":44,"x":478,"y":1.02},{"p":"R","s":44,"x":483,"y":1.05},{"p":"R","s":44,"x":488,"y":1.1},{"p":"R","s":44,"x":493,"y":1.06},{"p":"R","s":44,"x":500,"y":1.05},{"p":"R","s":44,"x":512,"y":1.05}
]
},
"hconcat": [
{
 "width": 398, "height": 415,
 "title": {"text": "Wavefunction", "dx": -98, "offset": 13},
 "encoding": {
  "x": {"field": "x", "type": "quantitative", "scale": {"domain": [0, 512], "nice": false, "zero": false}, "axis": {"values": [100, 200, 300, 400, 500], "tickSize": -17, "labelPadding": 27, "title": "x (11 points = 0.1 nm)", "titlePadding": 16}},
  "y": {"field": "y", "type": "quantitative", "scale": {"domain": [-0.3, 1.451], "nice": false, "zero": false}, "axis": {"values": [-0.2, -0.1, 0, 0.1, 0.2, 0.3, 0.4, 0.5, 0.6, 0.7, 0.8, 0.9, 1, 1.1, 1.2, 1.3, 1.4], "labelExpr": "datum.value === 0 ? '0' : datum.value === 0.5 ? '0.5' : datum.value === 1 ? '1' : ''", "tickSize": -9, "labelPadding": 24, "labelOffset": 4, "title": null}}
 },
 "layer": [
  {"data": {"name": "curves"}, "transform": [{"filter": "datum.p === 'L'"}], "mark": {"type": "line", "interpolate": "monotone", "strokeWidth": 1.3, "opacity": 0.85, "clip": true},
   "encoding": {"color": {"field": "s", "type": "nominal", "legend": null, "scale": {"domain": [1,2,3,4,5,6,7,8,9,10,11,12,13,14,15,16,17,18,19,20,21,22,23,24,25,26,27,28,29,30,31,32,33,34,35,36,37,38,39,40,41,42,43,44], "range": ["#222222","#0000ff","#ff0000","#22ee22","#ff00ff","#00f0f0","#800000","#2e8b2e","#000080","#008080","#800080","#808000","#808000","#808000","#0000ff","#ff0000","#00f0f0","#55ee55","#800080","#808080","#00ee00","#8a8a40","#222222","#0000ff","#ff0000","#22ee22","#ff00ff","#00f0f0","#800000","#2e8b2e","#000080","#008080","#800080","#808000","#808000","#808000","#0000ff","#ff0000","#00f0f0","#55ee55","#800080","#808080","#00ee00","#8a8a40"]}}}},
  {"data": {"name": "arrows"}, "transform": [{"filter": "datum.p === 'L'"}], "mark": {"type": "rule", "color": "#8fa9cc", "strokeWidth": 1.5}, "encoding": {"y2": {"field": "y2"}}},
  {"data": {"name": "arrows"}, "transform": [{"filter": "datum.p === 'L'"}], "mark": {"type": "point", "shape": "M-1,-1L0,0L1,-1", "filled": false, "size": 110, "color": "#8fa9cc", "strokeWidth": 1.5, "opacity": 1}},
  {"data": {"name": "labels"}, "transform": [{"filter": "datum.p === 'L'"}], "mark": {"type": "text", "font": "Liberation Serif", "fontSize": 16, "color": "#222222", "align": "center", "baseline": "middle"}, "encoding": {"text": {"field": "t"}}}
 ]
},
{
 "spacing": -17,
 "vconcat": [
  {"width": 1, "height": 4, "view": {"stroke": null}, "data": {"values": [{"z": 0}]}, "mark": {"type": "point", "opacity": 0, "size": 1}, "encoding": {}},
  {
   "width": 392, "height": 389,
   "title": {"text": "Wavefunction", "dx": -96, "offset": 11},
   "encoding": {
    "x": {"field": "x", "type": "quantitative", "scale": {"domain": [0, 512], "nice": false, "zero": false}, "axis": {"values": [100, 200, 300, 400, 500], "tickSize": -17, "labelPadding": 27, "title": "x (11 points = 0.1 nm)", "titlePadding": 14}},
    "y": {"field": "y", "type": "quantitative", "scale": {"domain": [-0.403, 1.451], "nice": false, "zero": false}, "axis": {"values": [-0.3, -0.2, -0.1, 0, 0.1, 0.2, 0.3, 0.4, 0.5, 0.6, 0.7, 0.8, 0.9, 1, 1.1, 1.2, 1.3, 1.4], "labelExpr": "datum.value === 0 ? '0' : datum.value === 0.5 ? '0.5' : datum.value === 1 ? '1' : ''", "tickSize": -9, "labelPadding": 24, "labelOffset": 4, "title": null}}
   },
   "layer": [
    {"data": {"name": "curves"}, "transform": [{"filter": "datum.p === 'R'"}], "mark": {"type": "line", "interpolate": "monotone", "strokeWidth": 1.3, "opacity": 0.85, "clip": true},
     "encoding": {"color": {"field": "s", "type": "nominal", "legend": null, "scale": {"domain": [1,2,3,4,5,6,7,8,9,10,11,12,13,14,15,16,17,18,19,20,21,22,23,24,25,26,27,28,29,30,31,32,33,34,35,36,37,38,39,40,41,42,43,44], "range": ["#222222","#0000ff","#ff0000","#22ee22","#ff00ff","#00f0f0","#800000","#2e8b2e","#000080","#008080","#800080","#808000","#808000","#808000","#0000ff","#ff0000","#00f0f0","#55ee55","#800080","#808080","#00ee00","#8a8a40","#222222","#0000ff","#ff0000","#22ee22","#ff00ff","#00f0f0","#800000","#2e8b2e","#000080","#008080","#800080","#808000","#808000","#808000","#0000ff","#ff0000","#00f0f0","#55ee55","#800080","#808080","#00ee00","#8a8a40"]}}}},
    {"data": {"name": "arrows"}, "transform": [{"filter": "datum.p === 'R'"}], "mark": {"type": "rule", "color": "#8fa9cc", "strokeWidth": 1.5}, "encoding": {"y2": {"field": "y2"}}},
    {"data": {"name": "arrows"}, "transform": [{"filter": "datum.p === 'R'"}], "mark": {"type": "point", "shape": "M-1,-1L0,0L1,-1", "filled": false, "size": 110, "color": "#8fa9cc", "strokeWidth": 1.5, "opacity": 1}},
    {"data": {"name": "labels"}, "transform": [{"filter": "datum.p === 'R'"}], "mark": {"type": "text", "font": "Open Sans", "fontSize": 14, "color": "#222222", "align": "center", "baseline": "middle"}, "encoding": {"text": {"field": "t"}}}
   ]
  }
 ]
}
]
}
